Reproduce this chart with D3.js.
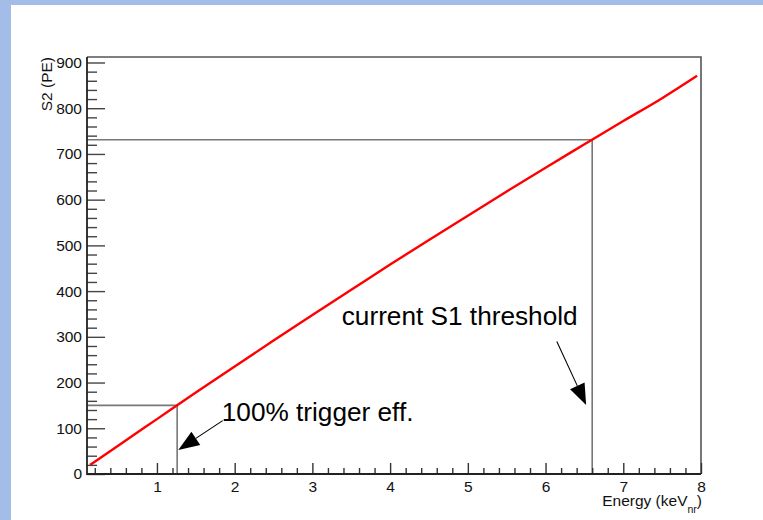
<!DOCTYPE html>
<html>
<head>
<meta charset="utf-8">
<script src="https://cdn.jsdelivr.net/npm/d3@7"></script>
<style>
  html, body { margin: 0; padding: 0; background: #fff; }
  svg { display: block; font-family: "Liberation Sans", Arial, Helvetica, sans-serif; }
</style>
</head>
<body>
<svg id="chart" width="763" height="520"></svg>
<script>
// ---- data ----
const energy = [0.14, 0.5, 1.0, 1.5, 2.0, 2.5, 3.0, 3.5, 4.0, 4.5, 5.0, 5.5, 6.0, 6.5, 7.0, 7.5, 7.95];
const s2     = [20,   62,  120, 178, 235, 292, 348, 403, 458, 512, 565, 618, 670, 721, 772, 822, 871];
const xMajorTicks = [1, 2, 3, 4, 5, 6, 7, 8];
const yMajorTicks = [0, 100, 200, 300, 400, 500, 600, 700, 800, 900];
const xDomain = [0.1, 8];
const yDomain = [0, 912];
// guide points: [energy, S2]
const triggerPoint = [1.26, 150];
const thresholdPoint = [6.6, 731];
// annotations (data coordinates)
const annotTexts = ["100% trigger eff.", "current S1 threshold"];
const annotTextPos = [[1.834, 116.7], [3.378, 326]];
const arrowFrom = [[1.846, 116.7], [6.145, 289.7]];
const arrowTo   = [[1.275, 52.5], [6.522, 151]];

// ---- layout ----
const W = 763, H = 520;
const plot = { left: 87, right: 701, top: 57, bottom: 474 };
const FONT = "Liberation Sans, Arial, Helvetica, sans-serif";

const svg = d3.select("#chart");
svg.append("rect").attr("x", 0).attr("y", 0).attr("width", W).attr("height", H).attr("fill", "#fff");
svg.append("rect").attr("x", 0).attr("y", 0).attr("width", W).attr("height", 5).attr("fill", "#a3bde8");
svg.append("rect").attr("x", 0).attr("y", 0).attr("width", 11).attr("height", H).attr("fill", "#a3bde8");

const x = d3.scaleLinear().domain(xDomain).range([plot.left, plot.right]);
const y = d3.scaleLinear().domain(yDomain).range([plot.bottom, plot.top]);

// frame top & right
svg.append("path")
  .attr("d", `M${plot.left},${plot.top}H${plot.right}V${plot.bottom}`)
  .attr("fill", "none").attr("stroke", "#555").attr("stroke-width", 1.6);

// guide lines
const guide = svg.append("g").attr("stroke", "#777").attr("stroke-width", 1.6).attr("fill", "none");
[triggerPoint, thresholdPoint].forEach(p => {
  guide.append("path")
    .attr("d", `M${x(xDomain[0])},${y(p[1])}H${x(p[0])}V${y(0)}`);
});

// x axis
const xMinor = d3.range(2, 80, 2).map(v => v / 10).filter(v => Math.abs(v - Math.round(v)) > 1e-6);
const xAxisMajor = d3.axisBottom(x).tickValues(xMajorTicks).tickSize(-11).tickPadding(18).tickFormat(d3.format("d"));
const xAxisMinor = d3.axisBottom(x).tickValues(xMinor).tickSize(-6).tickFormat("");
const gxMinor = svg.append("g").attr("transform", `translate(0,${plot.bottom})`).call(xAxisMinor);
const gx = svg.append("g").attr("transform", `translate(0,${plot.bottom})`).call(xAxisMajor);
[gx, gxMinor].forEach(g => {
  g.select(".domain").remove();
  g.selectAll(".tick line").attr("stroke", "#333").attr("stroke-width", 1.4);
});
gx.attr("font-size", 15.5).attr("font-family", FONT);
gx.selectAll(".tick text").attr("font-size", 15.5).attr("fill", "#111").attr("dy", "0");

// y axis
const yMinor = d3.range(20, 912, 20).filter(v => v % 100 !== 0);
const yAxisMajor = d3.axisLeft(y).tickValues(yMajorTicks).tickSize(-18).tickPadding(5).tickFormat(d3.format("d"));
const yAxisMinor = d3.axisLeft(y).tickValues(yMinor).tickSize(-10).tickFormat("");
const gyMinor = svg.append("g").attr("transform", `translate(${plot.left},0)`).call(yAxisMinor);
const gy = svg.append("g").attr("transform", `translate(${plot.left},0)`).call(yAxisMajor);
[gy, gyMinor].forEach(g => {
  g.select(".domain").remove();
  g.selectAll(".tick line").attr("stroke", "#444").attr("stroke-width", 1.4);
});
gy.attr("font-size", 15.5).attr("font-family", FONT);
gy.selectAll(".tick text").attr("font-size", 15.5).attr("fill", "#111").attr("x", -5);

// axis lines
svg.append("path")
  .attr("d", `M${plot.left},${plot.top}V${plot.bottom}H${plot.right}`)
  .attr("fill", "none").attr("stroke", "#222").attr("stroke-width", 1.8);

// red curve
const pts = energy.map((e, i) => [e, s2[i]]);
svg.append("path")
  .datum(pts)
  .attr("d", d3.line().x(d => x(d[0])).y(d => y(d[1])).curve(d3.curveMonotoneX))
  .attr("fill", "none").attr("stroke", "#ff0000").attr("stroke-width", 2.4);

// axis titles
svg.append("text")
  .attr("transform", `translate(52,${plot.top}) rotate(-90)`)
  .attr("text-anchor", "end").attr("font-size", 15.5).attr("fill", "#111")
  .text("S2 (PE)");

const xt = svg.append("text")
  .attr("x", plot.right + 1).attr("y", 506).attr("text-anchor", "end")
  .attr("font-size", 15.5).attr("fill", "#111");
xt.append("tspan").text("Energy (keV");
xt.append("tspan").attr("dy", 7).attr("font-size", 10.5).text("nr");
xt.append("tspan").attr("dy", -7).text(")");

// annotations
annotTexts.forEach((t, i) => {
  svg.append("text")
    .attr("x", x(annotTextPos[i][0])).attr("y", y(annotTextPos[i][1]))
    .attr("font-size", 26.2).attr("fill", "#000").text(t);
});

arrowFrom.forEach((f, i) => {
  const x1 = x(f[0]), y1 = y(f[1]);
  const x2 = x(arrowTo[i][0]), y2 = y(arrowTo[i][1]);
  const ang = Math.atan2(y2 - y1, x2 - x1);
  const headLen = 21, headHalf = 8;
  const bx = x2 - headLen * Math.cos(ang), by = y2 - headLen * Math.sin(ang);
  svg.append("line")
    .attr("x1", x1).attr("y1", y1).attr("x2", bx).attr("y2", by)
    .attr("stroke", "#000").attr("stroke-width", 1.1);
  const px = -Math.sin(ang), py = Math.cos(ang);
  svg.append("path")
    .attr("d", `M${x2},${y2}L${bx + px * headHalf},${by + py * headHalf}L${bx - px * headHalf},${by - py * headHalf}Z`)
    .attr("fill", "#000");
});
</script>
</body>
</html>
